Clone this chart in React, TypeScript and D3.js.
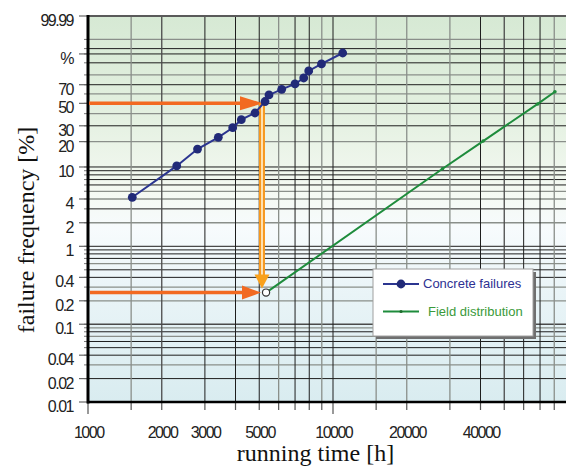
import React from "react";
import * as d3 from "d3";

// ---------- data ----------
const concreteTimes = [1516, 2302, 2799, 3403, 3896, 4224, 4804, 5279, 5480, 6174, 6996, 7594, 7958, 8975, 10954];
const concretePercents = [4.2, 10.3, 16.4, 22.4, 28.6, 34.8, 40.6, 51.9, 58.9, 65.0, 70.8, 77.0, 83.6, 89.2, 95.4];

const fieldTimes = [5330, 28000, 41000, 68500, 80500];
const fieldPercents = [0.255, 9.5, 20.3, 49.4, 62.4];

const arrowTime = 5130;
const arrowUpperPercent = 50;
const arrowLowerPercent = 0.255;

const xTickValues = [1000, 1500, 2000, 3000, 4000, 5000, 6000, 7000, 8000, 9000, 10000, 15000, 20000, 30000, 40000, 50000, 60000, 70000, 80000, 90000];
const xTickShades = ["axis", "light", "mid", "dark", "dark", "dark", "light", "dark", "dark", "light", "dark", "light", "light", "light", "dark", "mid", "dark", "dark", "light", "light"];
const xLabelValues = [1000, 2000, 3000, 5000, 10000, 20000, 40000];
const xLabelTexts = ["1000", "2000", "3000", "5000", "10000", "20000", "40000"];

const yGridPercents = [0.02, 0.03, 0.04, 0.05, 0.06, 0.07, 0.08, 0.09, 0.1, 0.2, 0.3, 0.4, 0.5, 0.6, 0.7, 0.8, 0.9, 1, 2, 3, 4, 5, 6, 7, 8, 9, 10, 20, 30, 40, 50, 60, 70, 80, 90, 95, 97, 99];
const yGridShades = ["dark", "light", "dark", "dark", "dark", "light", "dark", "light", "mid", "light", "light", "dark", "dark", "light", "dark", "dark", "dark", "mid", "light", "dark", "light", "light", "dark", "dark", "dark", "dark", "dark", "light", "dark", "light", "dark", "light", "dark", "light", "dark", "dark", "dark", "light"];
const yLabelPercents = [99.99, 95, 70, 50, 30, 20, 10, 4, 2, 1, 0.4, 0.2, 0.1, 0.04, 0.02, 0.01];
const yLabelTexts = ["99.99", "%", "70", "50", "30", "20", "10", "4", "2", "1", "0.4", "0.2", "0.1", "0.04", "0.02", "0.01"];

const legendLabels = ["Concrete failures", "Field distribution"];

// ---------- layout ----------
const W = 566;
const H = 466;
const left = 88;
const top = 16;
const bottom = 402;

const weib = (p: number) => Math.log(-Math.log(1 - p / 100));

const xScale = d3.scaleLog().domain([1000, 100000]).range([left, 578]);
const yScale = d3.scaleLinear().domain([weib(0.01), weib(99.99)]).range([bottom, top]);

const shadeStyle: Record<string, { stroke: string; width: number }> = {
  dark: { stroke: "#1e1e1e", width: 1 },
  mid: { stroke: "#4a4a4a", width: 1.3 },
  light: { stroke: "#8a8f8a", width: 1.3 },
  axis: { stroke: "#000", width: 0 },
};

const tickFont = "'Liberation Sans', Arial, sans-serif";
const serif = "'Liberation Serif', 'Times New Roman', serif";
const sans = "'Liberation Sans', Arial, sans-serif";

export default function App() {
  const concretePts = concreteTimes.map((t, i) => [xScale(t), yScale(weib(concretePercents[i]))] as [number, number]);
  const fieldPts = fieldTimes.map((t, i) => [xScale(t), yScale(weib(fieldPercents[i]))] as [number, number]);
  const line = d3.line();

  const ax = xScale(arrowTime);
  const yUp = yScale(weib(arrowUpperPercent));
  const yLow = yScale(weib(arrowLowerPercent));

  const legX = 373;
  const legY = 269;
  const legW = 160;
  const legH = 67;

  return (
    <svg width={W} height={H} style={{ position: "absolute", left: 0, top: 0, background: "#fff" }}>
      <defs>
        <linearGradient id="bg" x1="0" y1="0" x2="0" y2="1">
          <stop offset="0" stopColor="#d6e9d4" />
          <stop offset="0.25" stopColor="#e3f0e0" />
          <stop offset="0.45" stopColor="#f4f9f2" />
          <stop offset="0.55" stopColor="#f7fbfd" />
          <stop offset="0.72" stopColor="#e9f4f7" />
          <stop offset="1" stopColor="#d9ecf0" />
        </linearGradient>
        <clipPath id="plotClip">
          <rect x={left} y={top} width={W - left} height={bottom - top} />
        </clipPath>
      </defs>

      <rect x={left} y={top} width={W - left} height={bottom - top} fill="url(#bg)" />

      {/* grid */}
      <g clipPath="url(#plotClip)">
        {yGridPercents.map((p, i) => {
          const s = shadeStyle[yGridShades[i]];
          const y = yScale(weib(p));
          return <line key={"h" + i} x1={left} x2={W} y1={y} y2={y} stroke={s.stroke} strokeWidth={s.width} />;
        })}
        {xTickValues.map((v, i) => {
          if (xTickShades[i] === "axis") return null;
          const s = shadeStyle[xTickShades[i]];
          const x = xScale(v);
          return <line key={"v" + i} x1={x} x2={x} y1={top} y2={bottom} stroke={s.stroke} strokeWidth={s.width} />;
        })}
      </g>

      {/* top border */}
      <line x1={left} x2={W} y1={top} y2={top} stroke="#5a5a5a" strokeWidth={2} />

      {/* left ticks */}
      {yGridPercents.map((p, i) => {
        const y = yScale(weib(p));
        return <line key={"lt" + i} x1={84} x2={left} y1={y} y2={y} stroke="#777" strokeWidth={1} />;
      })}
      {yLabelPercents.map((p, i) => {
        const y = yScale(weib(p));
        return <line key={"lt2" + i} x1={79} x2={left} y1={y} y2={y} stroke="#666" strokeWidth={1.2} />;
      })}
      {yLabelPercents.map((p, i) => {
        const y = yScale(weib(p));
        return (
          <text key={"yl" + i} x={73} y={y + 10} textAnchor="end" fontFamily={tickFont} fontSize={16} letterSpacing={-1.5} fill="#222">
            {yLabelTexts[i]}
          </text>
        );
      })}

      {/* bottom ticks */}
      {xTickValues.map((v, i) => {
        const x = xScale(v);
        const long = v === 1000 || v === 10000;
        return <line key={"bt" + i} x1={x} x2={x} y1={bottom} y2={long ? 414 : 410} stroke="#555" strokeWidth={1.2} />;
      })}
      {xLabelValues.map((v, i) => (
        <text key={"xl" + i} x={xScale(v) + 0.75} y={438} textAnchor="middle" fontFamily={tickFont} fontSize={16} letterSpacing={-1.5} fill="#222">
          {xLabelTexts[i]}
        </text>
      ))}

      {/* axes */}
      <line x1={left} x2={left} y1={top - 1} y2={bottom + 1.5} stroke="#000" strokeWidth={3} />
      <line x1={left - 1} x2={W} y1={bottom} y2={bottom} stroke="#000" strokeWidth={2.5} />

      {/* titles */}
      <text x={315.5} y={461} textAnchor="middle" fontFamily={serif} fontSize={24} fill="#111">
        running time [h]
      </text>
      <text transform={`translate(34,230) rotate(-90)`} textAnchor="middle" fontFamily={serif} fontSize={24} fill="#111">
        failure frequency [%]
      </text>

      {/* orange arrows */}
      <line x1={left + 1} x2={ax - 18} y1={yUp} y2={yUp} stroke="#f26a21" strokeWidth={3.5} />
      <path d={`M${ax - 22},${yUp - 7} L${ax + 1},${yUp} L${ax - 22},${yUp + 7} Z`} fill="#f26a21" />
      <line x1={left + 2} x2={ax - 18} y1={yLow} y2={yLow} stroke="#f26a21" strokeWidth={3.5} />
      <path d={`M${ax - 20},${yLow - 7} L${ax - 1},${yLow} L${ax - 20},${yLow + 7} Z`} fill="#f26a21" />
      <line x1={ax} x2={ax} y1={yUp} y2={yLow - 14} stroke="#f7981f" strokeWidth={6} />
      <line x1={ax} x2={ax} y1={yUp + 1} y2={yLow - 14} stroke="#fde0b0" strokeWidth={2} />
      <path d={`M${ax - 7.5},${yLow - 18} L${ax + 7.5},${yLow - 18} L${ax},${yLow - 4} Z`} fill="#f9a11b" />

      {/* concrete failures */}
      <path d={line(concretePts) || ""} fill="none" stroke="#2b3590" strokeWidth={2} />
      {concretePts.map((p, i) => (
        <circle key={"c" + i} cx={p[0]} cy={p[1]} r={4.4} fill="#212a78" />
      ))}

      {/* field distribution */}
      <g clipPath="url(#plotClip)">
        <path d={line(fieldPts) || ""} fill="none" stroke="#1e8c3c" strokeWidth={2} />
        {fieldPts.slice(1).map((p, i) => (
          <circle key={"f" + i} cx={p[0]} cy={p[1]} r={1.8} fill="#1e8c3c" />
        ))}
      </g>
      <circle cx={fieldPts[0][0]} cy={fieldPts[0][1]} r={3.6} fill="#fff" stroke="#333" strokeWidth={1.2} />

      {/* legend */}
      <rect x={legX + 3} y={legY + 3} width={legW} height={legH} fill="#6f6f6f" />
      <rect x={legX} y={legY} width={legW} height={legH} fill="#fff" stroke="#a0a0a0" strokeWidth={1} />
      <line x1={legX + 10} x2={legX + 46} y1={legY + 15} y2={legY + 15} stroke="#2b3590" strokeWidth={2} />
      <circle cx={legX + 28} cy={legY + 15} r={4.4} fill="#212a78" />
      <text x={legX + 50} y={legY + 19} fontFamily={sans} fontSize={13} fill="#2e3192">
        {legendLabels[0]}
      </text>
      <line x1={legX + 10} x2={legX + 46} y1={legY + 42.5} y2={legY + 42.5} stroke="#1e8c3c" strokeWidth={2} />
      <circle cx={legX + 28} cy={legY + 42.5} r={1.6} fill="#1e6c2c" />
      <text x={legX + 55} y={legY + 47} fontFamily={sans} fontSize={13} fill="#3a9a3a">
        {legendLabels[1]}
      </text>
    </svg>
  );
}
